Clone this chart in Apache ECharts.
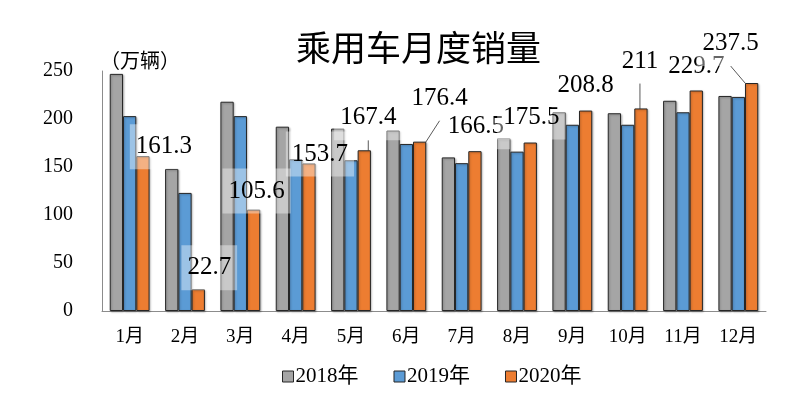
<!DOCTYPE html>
<html>
<head>
<meta charset="utf-8">
<script src="https://cdn.jsdelivr.net/npm/echarts@6/dist/echarts.min.js"></script>
<style>
  html,body{margin:0;padding:0;background:#fff;}
  #chart{width:806px;height:398px;}
</style>
</head>
<body>
<div id="chart"></div>
<script>
// monthly passenger car sales, 10k units
const months=["1月","2月","3月","4月","5月","6月","7月","8月","9月","10月","11月","12月"];
const sales2018=[247,148,218,192,190,188,160,180,207,206,219,224];
const sales2019=[203,123,203,158,157,174,154,166,194,194,207,223];
const sales2020=[161.3,22.7,105.6,153.7,167.4,176.4,166.5,175.5,208.8,211,229.7,237.5];

// label shifts for the 2020 values (px), and which get a guide line
const labelShift=[[21,18],[11,6],[3,9],[11,18],[4,-5],[20,-16],[1,3],[1,2],[0,2],[-1,-20],[0,3],[-21,-12]];
const withLine=[4,5,9,11];

const FONT="'Liberation Serif','Noto Sans CJK SC'";

const chart=echarts.init(document.getElementById("chart"));

const barStyle=(color)=>({
    color:color,
    borderColor:"#262626",
    borderWidth:1,
    shadowColor:"rgba(0,0,0,0.25)",
    shadowBlur:2,
    shadowOffsetX:1,
    shadowOffsetY:1
});

chart.setOption({
    animation:false,
    title:[
        {
            text:"乘用车月度销量",
            left:291,
            top:25,
            textStyle:{fontFamily:"'Noto Sans CJK SC'",fontSize:35,fontWeight:"normal",color:"#000"}
        },
        {
            text:"（万辆）",
            left:95,
            top:45,
            textStyle:{fontFamily:"'Noto Sans CJK SC'",fontSize:20,fontWeight:"normal",color:"#000"}
        }
    ],
    legend:{
        bottom:6,
        left:277,
        icon:"rect",
        itemWidth:11,
        itemHeight:11,
        itemGap:35,
        itemStyle:{shadowBlur:0,shadowOffsetX:0,shadowOffsetY:0,borderColor:"#262626",borderWidth:1},
        textStyle:{fontFamily:FONT,fontSize:21,color:"#000",padding:[0,0,0,-3]},
        data:["2018年","2019年","2020年"]
    },
    grid:{left:102,right:40,top:71,bottom:87},
    xAxis:{
        type:"category",
        data:months,
        axisLine:{lineStyle:{color:"#8c8c8c",width:1}},
        axisTick:{show:false},
        axisLabel:{fontFamily:FONT,fontSize:19,color:"#000",margin:17}
    },
    yAxis:{
        type:"value",
        min:0,
        max:250,
        interval:50,
        axisLine:{show:true,lineStyle:{color:"#8c8c8c",width:1}},
        axisTick:{show:false},
        splitLine:{show:false},
        axisLabel:{fontFamily:FONT,fontSize:20,color:"#000",margin:29}
    },
    series:[
        {
            name:"2018年",
            type:"bar",
            barGap:"0%",
            barCategoryGap:"28%",
            itemStyle:barStyle("#A5A5A5"),
            data:sales2018
        },
        {
            name:"2019年",
            type:"bar",
            barGap:"0%",
            barCategoryGap:"28%",
            itemStyle:barStyle("#5B9BD5"),
            data:sales2019
        },
        {
            name:"2020年",
            type:"bar",
            barGap:"0%",
            barCategoryGap:"28%",
            itemStyle:barStyle("#ED7D31"),
            label:{
                show:true,
                position:"top",
                distance:5,
                fontFamily:FONT,
                fontSize:25,
                color:"#000",
                backgroundColor:"rgba(255,255,255,0.4)",
                padding:[10,6]
            },
            labelLine:{
                show:false,
                lineStyle:{color:"#595959",width:1}
            },
            labelLayout:(p)=>({
                dx:labelShift[p.dataIndex][0],
                dy:labelShift[p.dataIndex][1]
            }),
            data:sales2020.map((v,i)=>({
                value:v,
                labelLine:{show:withLine.includes(i)}
            }))
        }
    ]
});

window.addEventListener("resize",()=>chart.resize());
</script>
</body>
</html>
